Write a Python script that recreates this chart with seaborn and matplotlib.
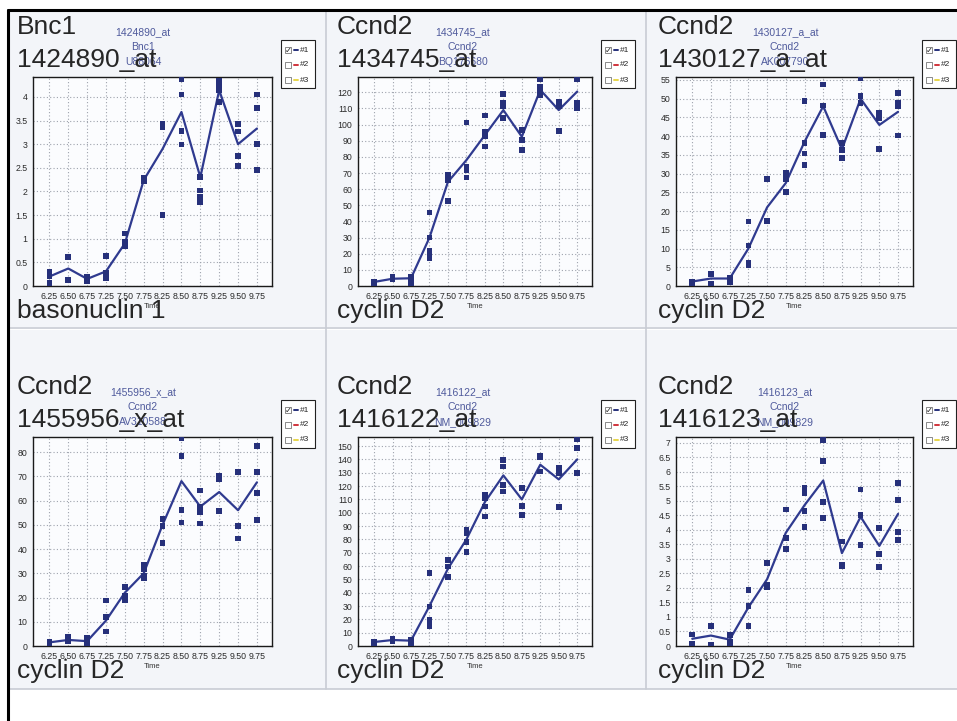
import pandas as pd
import seaborn as sns
import matplotlib.pyplot as plt
from matplotlib.patches import Rectangle
from matplotlib.lines import Line2D

sns.set_style("white")
plt.rcParams["font.family"] = ["Liberation Sans", "DejaVu Sans"]

W, H = 957, 721

times = ["6.25", "6.50", "6.75", "7.25", "7.50", "7.75",
         "8.25", "8.50", "8.75", "9.25", "9.50", "9.75"]

# replicate values (squares) and the mean line
bnc1_reps = [[0.30, 0.06, 0.20], [0.61, 0.12], [0.19, 0.15, 0.10], [0.63, 0.28, 0.16],
             [1.11, 0.93, 0.84], [2.28, 2.22], [3.42, 3.35, 1.50], [4.37, 4.05, 3.28, 2.99],
             [2.30, 2.02, 1.88, 1.78], [4.33, 4.22, 4.15, 3.89], [3.43, 3.27, 2.75, 2.54],
             [4.05, 3.77, 3.00, 2.45]]
bnc1_line = [0.20, 0.37, 0.15, 0.31, 0.90, 2.24, 2.90, 3.68, 2.30, 4.14, 3.00, 3.33]

p1434745_reps = [[2.5, 2.0], [4.1, 5.6], [5.6, 2.5, 1.0], [45.6, 30.0, 22.0, 20.0, 17.4],
                 [68.8, 66.7, 65.7, 52.6], [101.3, 74.0, 71.5, 67.2], [105.7, 95.8, 92.6, 86.4],
                 [119.0, 113.4, 111.3, 104.0], [96.8, 90.6, 84.4], [127.9, 123.3, 120.6, 118.5],
                 [114.4, 111.7, 96.2], [127.9, 113.4, 110.3]]
p1434745_line = [2.5, 4.5, 4.8, 30.0, 64.5, 78.0, 93.5, 109.0, 92.5, 121.5, 109.0, 120.5]

p1430127_reps = [[1.2, 0.5], [3.2, 0.7], [2.2, 1.8, 1.0], [17.2, 10.8, 6.1, 5.6],
                 [28.6, 17.4], [30.2, 29.7, 28.4, 25.0], [49.4, 38.2, 35.4, 32.4],
                 [53.8, 48.2, 40.4], [38.2, 36.4, 34.2], [55.4, 50.7, 48.9],
                 [46.3, 44.9, 36.6], [51.6, 48.9, 48.0, 40.2]]
p1430127_line = [1.2, 2.0, 2.0, 10.0, 21.0, 27.5, 38.5, 48.0, 36.5, 50.0, 43.0, 46.5]

p1455956_reps = [[1.8, 0.8], [3.6, 1.8], [3.2, 1.1], [18.8, 11.9, 6.0],
                 [24.2, 20.5, 19.1], [33.6, 31.6, 29.1, 28.1], [52.3, 49.6, 42.6],
                 [85.8, 78.3, 56.2, 50.9], [64.1, 57.2, 55.4, 50.5], [70.3, 68.7, 55.8],
                 [71.7, 49.6, 44.3], [82.5, 71.7, 63.1, 51.9]]
p1455956_line = [1.5, 2.5, 2.0, 10.5, 22.0, 30.0, 50.0, 68.0, 57.5, 63.5, 56.0, 67.5]

p1416122_reps = [[3.3, 2.0], [5.0, 3.3], [4.5, 2.0], [54.6, 29.6, 19.5, 15.0],
                 [64.6, 59.6, 51.6], [87.2, 84.6, 77.9, 70.4], [113.4, 110.9, 104.7, 97.2],
                 [139.7, 134.7, 121.0, 116.0], [118.5, 105.2, 98.4], [142.7, 141.7, 131.0],
                 [134.0, 129.7, 104.2], [155.3, 148.5, 129.7]]
p1416122_line = [3.0, 4.5, 4.0, 30.0, 58.0, 80.0, 108.0, 128.0, 110.0, 136.0, 125.0, 140.0]

p1416123_reps = [[0.40, 0.09], [0.69, 0.03], [0.38, 0.15, 0.03], [1.93, 1.38, 0.69],
                 [2.86, 2.10, 2.03], [4.70, 3.72, 3.34], [5.45, 5.27, 4.64, 4.10],
                 [7.10, 6.37, 4.95, 4.41], [3.60, 2.80, 2.74], [5.39, 4.52, 3.49],
                 [4.06, 3.18, 2.72], [5.62, 5.02, 3.92, 3.64]]
p1416123_line = [0.25, 0.36, 0.22, 1.33, 2.30, 3.90, 4.85, 5.70, 3.20, 4.45, 3.45, 4.55]

gene_names = ["Bnc1", "Ccnd2", "Ccnd2", "Ccnd2", "Ccnd2", "Ccnd2"]
probe_ids = ["1424890_at", "1434745_at", "1430127_a_at", "1455956_x_at", "1416122_at", "1416123_at"]
accessions = ["U88064", "BQ176680", "AK007790", "AV310588", "NM_009829", "NM_009829"]
descriptions = ["basonuclin 1", "cyclin D2", "cyclin D2", "cyclin D2", "cyclin D2", "cyclin D2"]
all_reps = [bnc1_reps, p1434745_reps, p1430127_reps, p1455956_reps, p1416122_reps, p1416123_reps]
all_lines = [bnc1_line, p1434745_line, p1430127_line, p1455956_line, p1416122_line, p1416123_line]
y_max = [4.42, 129.5, 55.8, 86.2, 156.8, 7.2]
y_step = [0.5, 10, 5, 10, 10, 0.5]

navy = "#26307a"
line_col = "#2f3a8f"
soft_blue = "#4f5a9c"
narrow = ["Liberation Sans Narrow", "Liberation Sans", "DejaVu Sans"]


def fx(x):
    return x / W


def fy(y):
    return 1 - y / H


fig = plt.figure(figsize=(W / 100, H / 100), dpi=100)
fig.patch.set_facecolor("white")

# cell backgrounds and frame
cell_x = [8, 327, 647, 957]
for r, (top, bot) in enumerate([(10, 327), (330, 689)]):
    for c in range(3):
        fig.patches.append(Rectangle((fx(cell_x[c]), fy(bot)), fx(cell_x[c + 1] - cell_x[c]),
                                     (bot - top) / H, transform=fig.transFigure,
                                     facecolor="#f3f5f9", edgecolor="none", zorder=-5))
for x in [326, 646]:
    fig.add_artist(Line2D([fx(x), fx(x)], [fy(10), fy(689)], color="#c8ccd4", lw=1.2, zorder=-4))
for y in [328, 689]:
    fig.add_artist(Line2D([fx(8), fx(957)], [fy(y), fy(y)], color="#c8ccd4", lw=1.2, zorder=-4))
fig.add_artist(Line2D([fx(8), fx(957)], [fy(10), fy(10)], color="black", lw=2.2, zorder=10))
fig.add_artist(Line2D([fx(8), fx(8)], [fy(10), fy(721)], color="black", lw=2.2, zorder=10))

ax_left = [33, 358, 676]
ax_w = [239, 234, 237]
ax_top = [77, 437]
ax_h = 209
text_x = [17, 337, 658]
blue_x = [143, 463, 785]

for i in range(6):
    r, c = divmod(i, 3)
    dy = 360 * r
    left, top = ax_left[c], ax_top[r]
    ax = fig.add_axes([fx(left), fy(top + ax_h), ax_w[c] / W, ax_h / H])
    ax.set_facecolor("#fbfcfe")

    rows = []
    for t, vals in zip(times, all_reps[i]):
        for v in vals:
            rows.append({"Time": t, "Value": v})
    df = pd.DataFrame(rows)

    sns.lineplot(x=times, y=all_lines[i], color=line_col, lw=1.6, sort=False, ax=ax, zorder=3)
    sns.scatterplot(data=df, x="Time", y="Value", marker="s", s=17, color=navy,
                    edgecolor="none", ax=ax, zorder=4)

    ax.set_xlim(-0.87, 11.8)
    ax.set_ylim(0, y_max[i])
    step = y_step[i]
    n = int(y_max[i] / step + 1e-9)
    yt = [k * step for k in range(n + 1)]
    ax.set_yticks(yt)
    ax.set_yticklabels([f"{v:g}" for v in yt])
    ax.set_xticks(range(len(times)))
    ax.set_xticklabels(times, family=narrow)
    ax.tick_params(axis="both", labelsize=6.3, length=2.5, width=0.6, colors="#2a2a2a", pad=1.5)
    ax.grid(True, linestyle=(0, (1, 2)), color="#9ea3ad", lw=0.8)
    ax.set_axisbelow(True)
    for s in ax.spines.values():
        s.set_color("#1a1a1a")
        s.set_linewidth(1.0)
    ax.set_xlabel("Time", fontsize=5.5, labelpad=2, color="#333333")
    ax.set_ylabel("")

    # small blue header behind big labels
    for k, txt in enumerate([probe_ids[i], gene_names[i], accessions[i]]):
        fig.text(fx(blue_x[c]), fy(32 + 15 * k + dy), txt, fontsize=7.5, color=soft_blue,
                 ha="center", va="center", family=narrow, zorder=2)

    # big black labels
    fig.text(fx(text_x[c]), fy(34 + dy), gene_names[i], fontsize=19, va="baseline", zorder=6)
    fig.text(fx(text_x[c]), fy(67 + dy), probe_ids[i], fontsize=19, va="baseline", zorder=6)
    fig.text(fx(text_x[c]), fy(318 + dy), descriptions[i], fontsize=19, va="baseline", zorder=6)

    # legend box with checkboxes
    lx = left + ax_w[c] + 9
    ly = 40 + dy
    fig.patches.append(Rectangle((fx(lx), fy(ly + 48)), 34 / W, 48 / H, transform=fig.transFigure,
                                 facecolor="white", edgecolor="#222222", lw=0.8, zorder=5))
    for k, col in enumerate([navy, "#d0343c", "#e8d64a"]):
        yy = ly + 10 + 15 * k
        fig.patches.append(Rectangle((fx(lx + 4), fy(yy + 3)), 6 / W, 6 / H,
                                     transform=fig.transFigure, facecolor="white",
                                     edgecolor="#777777", lw=0.6, zorder=6))
        if k == 0:
            fig.text(fx(lx + 7), fy(yy), "\u2713", fontsize=6, ha="center", va="center",
                     family="DejaVu Sans", zorder=7)
        fig.add_artist(Line2D([fx(lx + 13), fx(lx + 17)], [fy(yy), fy(yy)], color=col,
                              lw=1.4, zorder=7))
        fig.text(fx(lx + 19), fy(yy), f"#{k + 1}", fontsize=6, va="center", family=narrow, zorder=7)

fig.savefig("out.png", dpi=100)
